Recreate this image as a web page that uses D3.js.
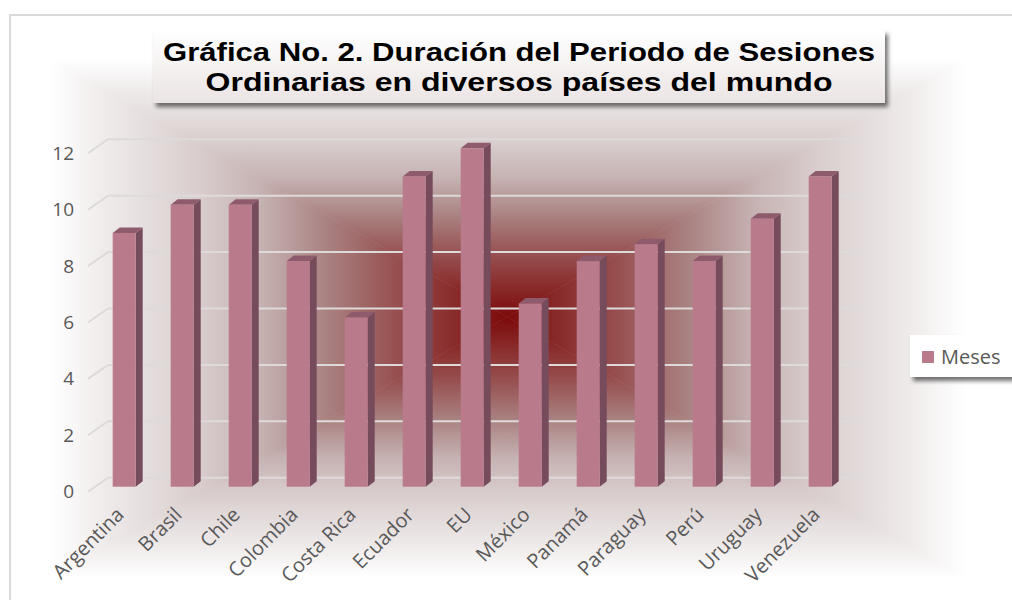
<!DOCTYPE html>
<html>
<head>
<meta charset="utf-8">
<script src="https://cdn.jsdelivr.net/npm/d3@7"></script>
<style>
body { margin: 0; background: #fff; }
svg { display: block; }
</style>
</head>
<body>
<div id="chart"></div>
<script>

// data
var categories = ["Argentina", "Brasil", "Chile", "Colombia", "Costa Rica", "Ecuador", "EU",
  "México", "Panamá", "Paraguay", "Perú", "Uruguay", "Venezuela"];
var meses = [9, 10, 10, 8, 6, 11, 12, 6.5, 8, 8.6, 8, 9.5, 11];
var yTicks = [0, 2, 4, 6, 8, 10, 12];
var seriesName = "Meses";
var titleLines = ["Gráfica No. 2. Duración del Periodo de Sesiones",
  "Ordinarias en diversos países del mundo"];

var W = 1012, H = 600;

// fake 3d floor depth and bar depth
var depthX = 20, depthY = -14;
var barW = 23, barDX = 7, barDY = -5.5;
var barShift = 7.2, barLift = -5;

var svg = d3.select("#chart").append("svg")
  .attr("width", W)
  .attr("height", H);

var defs = svg.append("defs");

var x = d3.scaleBand().domain(categories).range([88, 842]);
var y = d3.scaleLinear().domain([0, 12]).range([491.7, 153.3]);

// shadow filter for title and legend
var shadow = defs.append("filter").attr("id", "shadow")
  .attr("x", "-10%").attr("y", "-20%").attr("width", "130%").attr("height", "160%");
shadow.append("feDropShadow")
  .attr("dx", 3).attr("dy", 4).attr("stdDeviation", 2)
  .attr("flood-color", "#000").attr("flood-opacity", 0.55);

// outer frame
svg.append("rect")
  .attr("x", 10).attr("y", 15)
  .attr("width", W).attr("height", H)
  .attr("fill", "#fff")
  .attr("stroke", "#d9d9d9")
  .attr("stroke-width", 2);

// rectangular "from centre" background gradient, made of 4 triangles
var bg = {cx: 507, cy: 317, l: 50, r: 965, t: 60, b: 578};
var bgStops = [
  [0, "#7c0a0a"], [0.12, "#8a2c2c"], [0.25, "#985252"], [0.39, "#a98080"],
  [0.54, "#c6b2b2"], [0.67, "#d8cccc"], [0.8, "#e6dfdf"], [0.9, "#f2eeee"], [1, "#ffffff"]
];
var tris = [
  {id: "gT", x2: bg.cx, y2: bg.t, pts: [[bg.cx, bg.cy], [bg.l, bg.t], [bg.r, bg.t]]},
  {id: "gB", x2: bg.cx, y2: bg.b, pts: [[bg.cx, bg.cy], [bg.l, bg.b], [bg.r, bg.b]]},
  {id: "gL", x2: bg.l, y2: bg.cy, pts: [[bg.cx, bg.cy], [bg.l, bg.t], [bg.l, bg.b]]},
  {id: "gR", x2: bg.r, y2: bg.cy, pts: [[bg.cx, bg.cy], [bg.r, bg.t], [bg.r, bg.b]]}
];
tris.forEach(function(t) {
  var g = defs.append("linearGradient").attr("id", t.id)
    .attr("gradientUnits", "userSpaceOnUse")
    .attr("x1", bg.cx).attr("y1", bg.cy)
    .attr("x2", t.x2).attr("y2", t.y2);
  bgStops.forEach(function(s) {
    g.append("stop").attr("offset", s[0]).attr("stop-color", s[1]);
  });
  svg.append("polygon")
    .attr("points", t.pts.map(function(p) { return p.join(","); }).join(" "))
    .attr("fill", "url(#" + t.id + ")")
    .attr("stroke", "url(#" + t.id + ")")
    .attr("stroke-width", 0.6);
});

// gridlines: short diagonal on the floor side + back wall line
svg.append("g").selectAll("polyline")
  .data(yTicks)
  .enter()
  .append("polyline")
  .attr("points", function(d) {
    var yf = y(d);
    return [[88, yf], [88 + depthX, yf + depthY], [862, yf + depthY]]
      .map(function(p) { return p.join(","); }).join(" ");
  })
  .attr("fill", "none")
  .attr("stroke", "#dedada")
  .attr("stroke-width", 2);

// y axis labels
var yAxis = svg.append("g")
  .attr("transform", "translate(74,0)")
  .call(d3.axisLeft(y).tickValues(yTicks).tickSize(0).tickPadding(0));
yAxis.select(".domain").remove();
yAxis.selectAll("text")
  .style("font-family", "'Open Sans', sans-serif")
  .style("font-size", "19px")
  .attr("fill", "#595959");

// bars
var bars = svg.append("g").selectAll("g")
  .data(meses)
  .enter()
  .append("g");

function bx(i) { return x(categories[i]) + (x.bandwidth() - barW) / 2 + barShift; }

bars.append("polygon")
  .attr("points", function(d, i) {
    var x0 = bx(i) + barW, yt = y(d) + barLift, yb = y(0) + barLift;
    return [[x0, yt], [x0 + barDX, yt + barDY], [x0 + barDX, yb + barDY], [x0, yb]].join(" ");
  })
  .attr("fill", "#764b5b");

bars.append("polygon")
  .attr("points", function(d, i) {
    var x0 = bx(i), yt = y(d) + barLift;
    return [[x0, yt], [x0 + barDX, yt + barDY], [x0 + barW + barDX, yt + barDY], [x0 + barW, yt]].join(" ");
  })
  .attr("fill", "#8e5b6c");

bars.append("rect")
  .attr("x", function(d, i) { return bx(i); })
  .attr("y", function(d) { return y(d) + barLift; })
  .attr("width", barW)
  .attr("height", function(d) { return y(0) - y(d); })
  .attr("fill", "#b97a8b");

// x axis labels, rotated
var xAxis = svg.append("g")
  .attr("transform", "translate(" + (barShift + 1) + ",516)")
  .call(d3.axisBottom(x).tickSize(0));
xAxis.select(".domain").remove();
xAxis.selectAll("text")
  .attr("x", 0).attr("y", 0).attr("dy", 0)
  .attr("text-anchor", "end")
  .attr("transform", "rotate(-45)")
  .style("font-family", "'Open Sans', sans-serif")
  .style("font-size", "20px")
  .attr("fill", "#595959");

// title box
var titleGrad = defs.append("linearGradient").attr("id", "titleGrad")
  .attr("x1", 0).attr("y1", 0).attr("x2", 0).attr("y2", 1);
titleGrad.append("stop").attr("offset", 0).attr("stop-color", "#ffffff");
titleGrad.append("stop").attr("offset", 1).attr("stop-color", "#ebe4e4");

svg.append("rect")
  .attr("x", 153).attr("y", 30)
  .attr("width", 732).attr("height", 73)
  .attr("fill", "url(#titleGrad)")
  .attr("filter", "url(#shadow)");

var titleWidths = [712, 627];
svg.append("g").selectAll("text")
  .data(titleLines)
  .enter()
  .append("text")
  .attr("x", 519)
  .attr("y", function(d, i) { return 61 + i * 29.5; })
  .attr("text-anchor", "middle")
  .attr("textLength", function(d, i) { return titleWidths[i]; })
  .attr("lengthAdjust", "spacingAndGlyphs")
  .style("font-family", "'Liberation Sans', Arial, sans-serif")
  .style("font-weight", "bold")
  .style("font-size", "26px")
  .attr("fill", "#000")
  .text(function(d) { return d; });

// legend
var legend = svg.append("g").attr("transform", "translate(910,335)");
legend.append("rect")
  .attr("width", 115).attr("height", 42)
  .attr("fill", "#fff")
  .attr("filter", "url(#shadow)");
legend.append("rect")
  .attr("x", 12).attr("y", 16)
  .attr("width", 12).attr("height", 12)
  .attr("fill", "#b97a8b");
legend.append("text")
  .attr("x", 31).attr("y", 22)
  .attr("dy", "0.35em")
  .style("font-family", "'Open Sans', sans-serif")
  .style("font-size", "20px")
  .attr("fill", "#595959")
  .text(seriesName);

</script>
</body>
</html>
